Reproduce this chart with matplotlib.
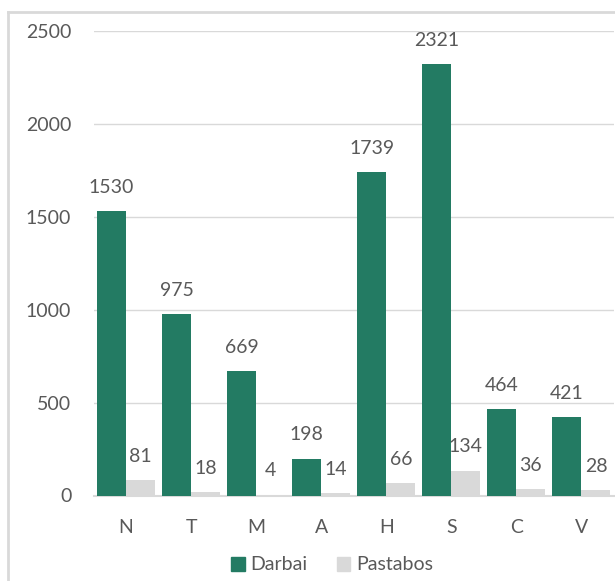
import matplotlib.pyplot as plt
from matplotlib.lines import Line2D
from matplotlib.patches import Patch
import numpy as np

# chart values
categories = ['N', 'T', 'M', 'A', 'H', 'S', 'C', 'V']
darbai = [1530, 975, 669, 198, 1739, 2321, 464, 421]
pastabos = [81, 18, 4, 14, 66, 134, 36, 28]

green = '#237b63'
grey = '#d9d9d9'
text_col = '#595959'

plt.rcParams['font.family'] = ['Lato', 'DejaVu Sans']

W, H = 615, 581
fig = plt.figure(figsize=(W / 100, H / 100), dpi=100)
ax = fig.add_axes([93.5 / W, 1 - 495.5 / H, (614 - 93.5) / W, (495.5 - 31) / H])

x = np.arange(len(categories))
bw = 29 / 65
b1 = ax.bar(x - bw / 2, darbai, width=bw, color=green, label='Darbai', zorder=3)
b2 = ax.bar(x + bw / 2, pastabos, width=bw, color=grey, label='Pastabos', zorder=3)

for bars, vals in ((b1, darbai), (b2, pastabos)):
    for rect, v in zip(bars, vals):
        ax.annotate(str(v), (rect.get_x() + rect.get_width() / 2, v),
                    xytext=(0, 11), textcoords='offset points',
                    ha='center', va='bottom', fontsize=14, color=text_col)

ax.set_xlim(-0.5, len(categories) - 0.5)
ax.set_ylim(0, 2500)
ax.set_yticks(range(0, 2501, 500))
ax.set_xticks(x)
ax.set_xticklabels(categories)
ax.tick_params(axis='both', length=0, labelsize=14, labelcolor=text_col)
ax.tick_params(axis='x', pad=17)
ax.tick_params(axis='y', pad=16)
ax.yaxis.grid(True, color=grey, lw=1, zorder=0)
for s in ('top', 'right', 'left'):
    ax.spines[s].set_visible(False)
ax.spines['bottom'].set_color(grey)
ax.spines['bottom'].set_linewidth(1.5)

# outer chart border (left and top visible)
fig.add_artist(Line2D([8 / W, 8 / W], [0, 1 - 12 / H], color=grey, lw=2))
fig.add_artist(Line2D([8 / W, 1], [1 - 12 / H, 1 - 12 / H], color=grey, lw=2))

handles = [Patch(color=green), Patch(color=grey)]
fig.legend(handles, ['Darbai', 'Pastabos'], loc='center', bbox_to_anchor=(332 / W, 1 - 565 / H),
           ncol=2, frameon=False, fontsize=14, labelcolor=text_col,
           handlelength=0.7, handleheight=0.7, handletextpad=0.3, columnspacing=1.5)

fig.savefig('out.png', dpi=100)
